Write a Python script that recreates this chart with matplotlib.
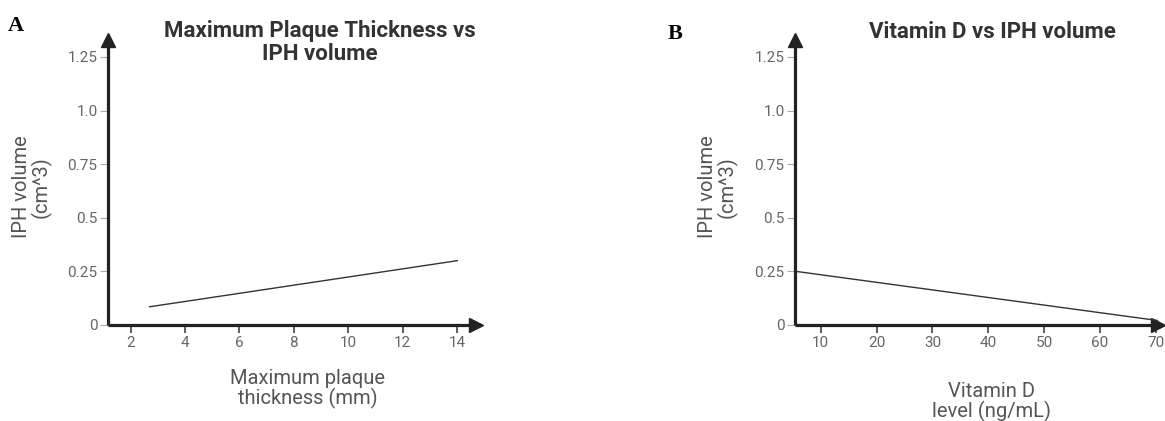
import matplotlib
matplotlib.use("Agg")
import matplotlib.pyplot as plt

# ---- data ----
a_x = [2.7, 14.0]
a_y = [0.085, 0.30]
a_xticks = [2, 4, 6, 8, 10, 12, 14]
b_x = [5.6, 70.6]
b_y = [0.25, 0.02]
b_xticks = [10, 20, 30, 40, 50, 60, 70]
yticks = [0, 0.25, 0.5, 0.75, 1.0, 1.25]
yticklabels = ["0", "0.25", "0.5", "0.75", "1.0", "1.25"]

plt.rcParams['font.family'] = ['Roboto', 'DejaVu Sans']

W, H = 1165, 421
fig = plt.figure(figsize=(W / 100, H / 100), dpi=100)

def px_axes(left, right, bottom, top):
    return fig.add_axes([left / W, 1 - bottom / H, (right - left) / W, (bottom - top) / H])

def style(ax, xlim, xticks, ymax_data):
    ax.set_xlim(*xlim)
    ax.set_ylim(0, ymax_data)
    for s in ['top', 'right']:
        ax.spines[s].set_visible(False)
    for s in ['left', 'bottom']:
        ax.spines[s].set_linewidth(2.3)
        ax.spines[s].set_color('#222222')
        ax.spines[s].set_capstyle('butt')
    ax.set_xticks(xticks)
    ax.set_yticks(yticks)
    ax.set_yticklabels(yticklabels)
    ax.tick_params(axis='y', length=6, width=0.8, color='#aaaaaa', labelcolor='#666666',
                   labelsize=11, pad=1.5)
    ax.tick_params(axis='x', length=6, width=1.2, color='#444444', labelcolor='#666666',
                   labelsize=11, pad=2)
    # arrowheads
    ax.plot(1, 0, '>', color='#222222', ms=10, transform=ax.get_yaxis_transform(), clip_on=False)
    ax.plot(xlim[0], 1, '^', color='#222222', ms=10, transform=ax.get_xaxis_transform(), clip_on=False)

# scale: 0 at y=325px, 1.25 at y=57px, axis end at 40px
ymax = 1.25 * (325 - 40) / (325 - 57)
axh = 325 - 40

# Panel A
axA = px_axes(108, 476, 325, 40)
style(axA, (1.17, 14.69), a_xticks, ymax)
axA.plot(a_x, a_y, color='#333333', lw=1.0)
axA.set_title("Maximum Plaque Thickness vs\nIPH volume", x=(320 - 108) / 368, y=(325 - 28) / axh, va='top',
              fontsize=16, fontweight='bold', color='#333333', linespacing=1.05)
axA.set_xlabel("Maximum plaque\nthickness (mm)", fontsize=14.5, color='#555555', linespacing=1.0)
axA.xaxis.set_label_coords((308 - 108) / 368, (325 - 369) / axh)
axA.xaxis.label.set_va('top')
axA.set_ylabel("IPH volume\n(cm^3)", fontsize=14.5, color='#555555', linespacing=1.0)
axA.yaxis.set_label_coords((52 - 108) / 368, (325 - 187) / axh)

# Panel B
axB = px_axes(795, 1158, 325, 40)
style(axB, (5.4, 70.4), b_xticks, ymax)
axB.plot(b_x, b_y, color='#333333', lw=1.0)
axB.set_title("Vitamin D vs IPH volume", x=(992.5 - 795) / 363, y=(325 - 29) / axh, va='top',
              fontsize=16, fontweight='bold', color='#333333')
axB.set_xlabel("Vitamin D\nlevel (ng/mL)", fontsize=14.5, color='#555555', linespacing=1.0)
axB.xaxis.set_label_coords((992 - 795) / 363, (325 - 382) / axh)
axB.xaxis.label.set_va('top')
axB.set_ylabel("IPH volume\n(cm^3)", fontsize=14.5, color='#555555', linespacing=1.0)
axB.yaxis.set_label_coords((738 - 795) / 363, (325 - 187) / axh)

fig.text(8 / W, 1 - 16 / H, "A", family='Liberation Serif', fontweight='bold', fontsize=16, va='top')
fig.text(668 / W, 1 - 24 / H, "B", family='Liberation Serif', fontweight='bold', fontsize=16, va='top')

fig.savefig("out.png", dpi=100)
